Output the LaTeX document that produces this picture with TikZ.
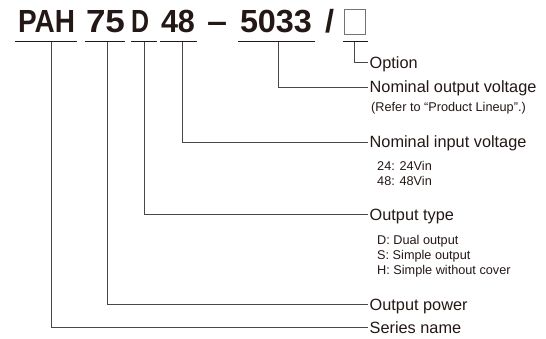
\documentclass[tikz,border=0pt]{standalone}
\usepackage{fontspec}
\setmainfont{Liberation Sans}
\usepackage{graphicx}
\definecolor{ink}{HTML}{231815}
\definecolor{wire}{HTML}{4A4646}
\begin{document}
\begin{tikzpicture}[x=1pt,y=-1pt,
  tok/.style={anchor=base, inner sep=0pt, text=ink, font=\fontsize{32}{32}\selectfont\bfseries},
  uline/.style={draw=ink, line width=1.3pt},
  conn/.style={draw=wire, line width=0.9pt},
  lbl/.style={anchor=west, inner xsep=1.5pt, inner ysep=0pt, text=ink,
    font=\fontsize{16.3}{18}\selectfont, text height=11.7pt, text depth=0pt},
  sub/.style={anchor=west, inner sep=0pt, text=ink,
    font=\fontsize{12.7}{14}\selectfont, text height=9pt, text depth=0pt}]
\useasboundingbox (0,0) rectangle (546,339);
% title tokens
\node[tok] (tPAH) at (46.5,33) {\resizebox{57pt}{\height}{PAH}};
\node[tok] (t75) at (105.5,33) {\resizebox{39pt}{\height}{75}};
\node[tok] (tD) at (140,33) {\resizebox{18pt}{\height}{D}};
\node[tok] (t48) at (178,33) {\resizebox{34pt}{\height}{48}};
\node[tok] (tdash) at (217,33) {\resizebox{20pt}{\height}{\char"2013}};
\node[tok] (t5033) at (276,33) {\resizebox{72pt}{\height}{5033}};
\node[tok] (tslash) at (329.5,33) {\resizebox{9pt}{\height}{/}};
\node[draw=black!55, line width=0.7pt, minimum width=21pt, minimum height=25pt, inner sep=0pt] (tbox) at (354.5,21.5) {};
% underlines
\draw[uline] (15,41.7) -- (77,41.7);
\draw[uline] (85,41.7) -- (125,41.7);
\draw[uline] (131,41.7) -- (157,41.7);
\draw[uline] (160,41.7) -- (197,41.7);
\draw[uline] (238,41.7) -- (315,41.7);
\draw[uline] (343,41.7) -- (368,41.7);
% taps
\coordinate (cPAH) at (51,41.7);
\coordinate (c75) at (107,41.7);
\coordinate (cD) at (144,41.7);
\coordinate (c48) at (182,41.7);
\coordinate (c5033) at (278,41.7);
\coordinate (cbox) at (354,41.7);
% labels
\node[lbl] (option) at (368,62.5) {Option};
\node[lbl] (nov) at (368,87) {Nominal output voltage};
\node[sub] (refer) at (371,107) {(Refer to “Product Lineup”.)};
\node[lbl] (niv) at (368,142) {Nominal input voltage};
\node[sub] (v24) at (377,166.5) {24: 24Vin};
\node[sub] (v48) at (377,181) {48: 48Vin};
\node[lbl] (otype) at (368,214.5) {Output type};
\node[sub] (sD) at (377,239.5) {D: Dual output};
\node[sub] (sS) at (377,254.5) {S: Simple output};
\node[sub] (sH) at (377,269.5) {H: Simple without cover};
\node[lbl] (opower) at (368,304.5) {Output power};
\node[lbl] (series) at (368,327.5) {Series name};
% connectors
\draw[conn] (cbox) |- (option.west);
\draw[conn] (c5033) |- (nov.west);
\draw[conn] (c48) |- (niv.west);
\draw[conn] (cD) |- (otype.west);
\draw[conn] (c75) |- (opower.west);
\draw[conn] (cPAH) |- (series.west);
\end{tikzpicture}
\end{document}
